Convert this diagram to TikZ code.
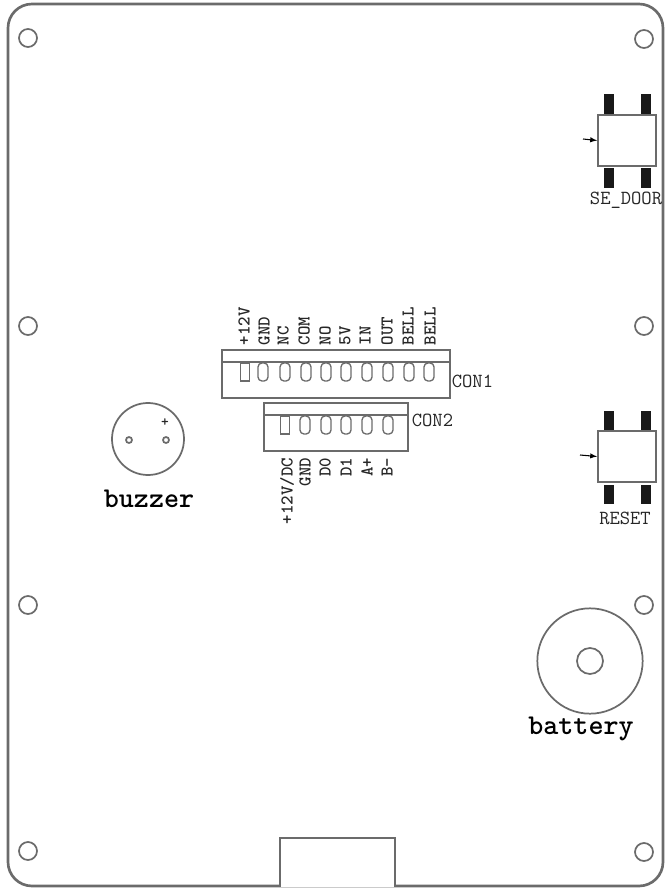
\documentclass[tikz,border=0pt]{standalone}
\usepackage{amsmath}
\usepackage{tikz}

\begin{document}
\begin{tikzpicture}[x=.75pt, y=-.75pt, line width=1.3pt, draw=black!58,
  hole/.style={draw, circle, inner sep=0pt, minimum size=13.5pt},
  conbox/.style={draw, rectangle, inner sep=0pt},
  swbox/.style={draw, rectangle, inner sep=0pt, minimum width=43.5pt, minimum height=38pt},
  swpin/.style={fill=black!90, rectangle, inner sep=0pt, minimum width=7pt, minimum height=14.5pt},
  pinsq/.style={draw, line width=1pt, rectangle, inner sep=0pt, minimum width=7pt, minimum height=13.5pt},
  pinrd/.style={draw, line width=1pt, rectangle, rounded corners=3pt, inner sep=0pt, minimum width=7.5pt, minimum height=13.5pt},
  biglbl/.style={inner sep=0pt, text=black, font=\fontsize{21.5}{22}\selectfont\ttfamily\bfseries},
  smalllbl/.style={inner sep=0pt, text=black!85, font=\fontsize{15}{15}\selectfont\ttfamily},
  pinlbl/.style={inner sep=0pt, text=black!85, rotate=90, font=\fontsize{13.5}{14}\selectfont\ttfamily\bfseries}]
\useasboundingbox (0,0) rectangle (670,888);

% board
\draw[line width=2pt, rounded corners=18pt] (8,4) -- (663,4) -- (663,886) -- (8,886) -- cycle;
\draw[fill=white] (280,887) -- (280,838) -- (395,838) -- (395,887);

\node[hole] (holea) at (28,38) {};
\node[hole] (holeb) at (644,39) {};
\node[hole] (holec) at (28,326) {};
\node[hole] (holed) at (644,326) {};
\node[hole] (holee) at (28,605) {};
\node[hole] (holef) at (644,605) {};
\node[hole] (holeg) at (28,851) {};
\node[hole] (holeh) at (644,852) {};

% door switch
\node[swbox] (sedoor) at (627,140.5) {};
\node[swpin] (dpina) at (609,104) {};
\node[swpin] (dpinb) at (646,104) {};
\node[swpin] (dpinc) at (609,178) {};
\node[swpin] (dpind) at (646,178) {};
\coordinate (darrow) at (583,139);
\draw[-latex, line width=.8pt, black] (darrow) -- (sedoor.west);
\node[smalllbl] (doorlbl) at (626,200) {SE\_DOOR};

% reset switch
\node[swbox] (reset) at (627,456.5) {};
\node[swpin] (rpina) at (609,420.5) {};
\node[swpin] (rpinb) at (646,420.5) {};
\node[swpin] (rpinc) at (609,494.5) {};
\node[swpin] (rpind) at (646,494.5) {};
\coordinate (rarrow) at (580,455);
\draw[-latex, line width=.8pt, black] (rarrow) -- (reset.west);
\node[smalllbl] (resetlbl) at (625,518) {RESET};

% CON1
\node[conbox, minimum width=171pt, minimum height=36pt] (conone) at (336,374) {};
\coordinate (conl) at (222,362);
\coordinate (conr) at (450,362);
\draw (conl) -- (conr);
\node[pinsq] (oa) at (245,372) {};
\node[pinrd] (ob) at (263,372) {};
\node[pinrd] (oc) at (285,372) {};
\node[pinrd] (od) at (306,372) {};
\node[pinrd] (oe) at (326,372) {};
\node[pinrd] (of) at (346,372) {};
\node[pinrd] (og) at (367,372) {};
\node[pinrd] (oh) at (388,372) {};
\node[pinrd] (oi) at (409,372) {};
\node[pinrd] (oj) at (429,372) {};
\node[pinlbl, anchor=west] (la) at (244,346) {+12V};
\node[pinlbl, anchor=west] (lb) at (264,346) {GND};
\node[pinlbl, anchor=west] (lc) at (283,346) {NC};
\node[pinlbl, anchor=west] (ld) at (304,346) {COM};
\node[pinlbl, anchor=west] (le) at (325,346) {NO};
\node[pinlbl, anchor=west] (lf) at (345,346) {5V};
\node[pinlbl, anchor=west] (lg) at (365,346) {IN};
\node[pinlbl, anchor=west] (lh) at (387,346) {OUT};
\node[pinlbl, anchor=west] (li) at (408,346) {BELL};
\node[pinlbl, anchor=west] (lj) at (430,346) {BELL};
\node[smalllbl, anchor=west] (ononelbl) at (451,381) {CON1};

% CON2
\node[conbox, minimum width=108pt, minimum height=36pt] (contwo) at (336,427) {};
\coordinate (cotl) at (264,415);
\coordinate (cotr) at (408,415);
\draw (cotl) -- (cotr);
\node[pinsq] (ta) at (285,425) {};
\node[pinrd] (tb) at (305,425) {};
\node[pinrd] (tc) at (326,425) {};
\node[pinrd] (td) at (346,425) {};
\node[pinrd] (te) at (367,425) {};
\node[pinrd] (tf) at (388,425) {};
\node[pinlbl, anchor=east] (ma) at (287,457) {+12V/DC};
\node[pinlbl, anchor=east] (mb) at (305,457) {GND};
\node[pinlbl, anchor=east] (mc) at (325,457) {D0};
\node[pinlbl, anchor=east] (md) at (346,457) {D1};
\node[pinlbl, anchor=east] (me) at (367,457) {A+};
\node[pinlbl, anchor=east] (mf) at (387,457) {B-};
\node[smalllbl, anchor=west] (contwolbl) at (411,420) {CON2};

% buzzer
\node[draw, circle, inner sep=0pt, minimum size=54pt] (buzzer) at (148,439) {};
\node[draw, circle, inner sep=0pt, minimum size=4.5pt] (bza) at (129,440) {};
\node[draw, circle, inner sep=0pt, minimum size=4.5pt] (bzb) at (166,440) {};
\node[inner sep=0pt, text=black!85, font=\fontsize{11}{11}\selectfont\ttfamily\bfseries] (bzplus) at (165,423) {+};
\node[biglbl] (bzlbl) at (149,499) {buzzer};

% battery
\node[draw, circle, inner sep=0pt, minimum size=79pt] (battery) at (590,661) {};
\node[draw, circle, inner sep=0pt, minimum size=19.5pt] (batin) at (590,661) {};
\node[biglbl] (batlbl) at (581,729) {battery};

\end{tikzpicture}
\end{document}
